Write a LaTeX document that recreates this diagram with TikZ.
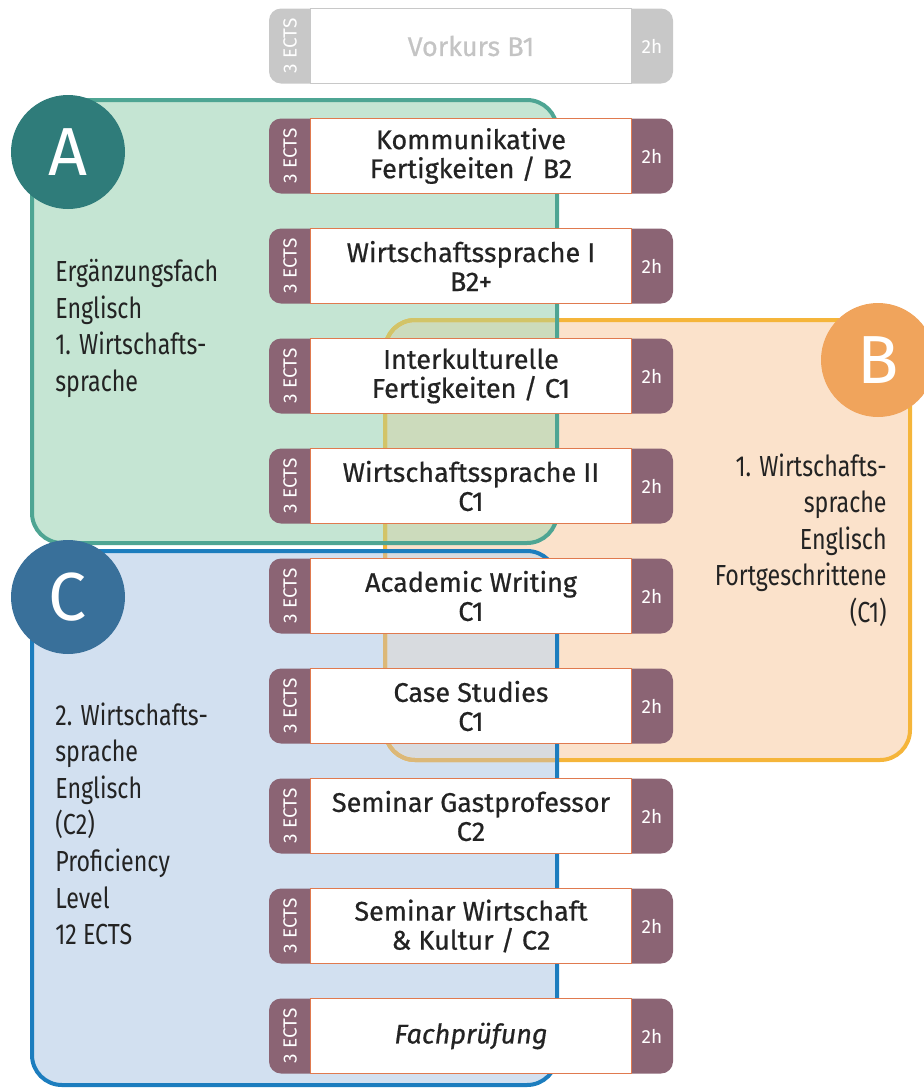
\documentclass[tikz,border=0pt]{standalone}
\usepackage{fontspec}
\setsansfont{Fira Sans}
\newfontfamily\condfont[FakeStretch=0.8]{Fira Sans}
\newfontfamily\coursefont[FakeBold=0.6]{Fira Sans}
\usetikzlibrary{positioning}

\definecolor{tabmauve}{RGB}{139,100,116}
\definecolor{courseline}{RGB}{224,122,79}
\definecolor{textdark}{RGB}{35,35,35}
\definecolor{greytab}{RGB}{200,200,200}
\definecolor{greytext}{RGB}{196,196,196}
\definecolor{afill}{RGB}{197,229,211}
\definecolor{aline}{RGB}{78,165,147}
\definecolor{abadge}{RGB}{47,124,122}
\definecolor{bfill}{RGB}{251,226,203}
\definecolor{bline}{RGB}{245,181,58}
\definecolor{bbadge}{RGB}{240,164,92}
\definecolor{cfill}{RGB}{210,224,240}
\definecolor{cline}{RGB}{28,125,190}
\definecolor{cbadge}{RGB}{57,112,154}
\definecolor{abfill}{RGB}{204,219,188}
\definecolor{cbfill}{RGB}{216,219,223}
\definecolor{abline}{RGB}{210,196,104}
\definecolor{cbline}{RGB}{220,184,120}

\begin{document}
\begin{tikzpicture}[x=0.5pt, y=-0.5pt, node distance=17.5pt,
	row/.style={rounded corners=6pt, fill=tabmauve, minimum width=202pt, minimum height=37.5pt, inner sep=0pt, outer sep=0pt},
	course/.style={draw=courseline, line width=0.6pt, fill=white, minimum width=160.5pt, minimum height=37.5pt, inner sep=0pt, align=center, text=textdark, font=\coursefont\fontsize{13.5}{14.5}\selectfont},
	ects/.style={rotate=90, text=white, inner sep=0pt, font=\sffamily\fontsize{9.5}{10}\selectfont},
	hours/.style={text=white, inner sep=0pt, font=\sffamily\fontsize{9.5}{10}\selectfont},
	group/.style={line width=2pt, rounded corners=15pt},
	badge/.style={circle, minimum size=57pt, inner sep=0pt, text=white, font=\sffamily\fontsize{34}{34}\selectfont},
	info/.style={inner sep=0pt, text=textdark, font=\condfont\fontsize{14.5}{18.3}\selectfont}]
	\useasboundingbox (0,0) rectangle (924,1088);

	% groups A, B, C
	\coordinate (a1) at (32,100);  \coordinate (a2) at (557,543);
	\coordinate (b1) at (385,320); \coordinate (b2) at (910,760);
	\coordinate (c1) at (32,551);  \coordinate (c2) at (557,1085);
	\fill[group, bfill] (b1) rectangle (b2);
	\fill[group, afill] (a1) rectangle (a2);
	\fill[group, cfill] (c1) rectangle (c2);
	\begin{scope}
		\clip[rounded corners=15pt] (b1) rectangle (b2);
		\fill[group, abfill] (a1) rectangle (a2);
		\fill[group, cbfill] (c1) rectangle (c2);
	\end{scope}
	\draw[group, bline] (b1) rectangle (b2);
	\begin{scope}
		\clip[rounded corners=15pt] (a1) rectangle (a2);
		\draw[group, abline] (b1) rectangle (b2);
	\end{scope}
	\begin{scope}
		\clip[rounded corners=15pt] (c1) rectangle (c2);
		\draw[group, cbline] (b1) rectangle (b2);
	\end{scope}
	\draw[group, aline] (a1) rectangle (a2);
	\draw[group, cline] (c1) rectangle (c2);

	% course rows
	\node[row, fill=greytab] (r1) at (471,46) {};
	\node[row] (r2) [below=of r1] {};
	\node[row] (r3) [below=of r2] {};
	\node[row] (r4) [below=of r3] {};
	\node[row] (r5) [below=of r4] {};
	\node[row] (r6) [below=of r5] {};
	\node[row] (r7) [below=of r6] {};
	\node[row] (r8) [below=of r7] {};
	\node[row] (r9) [below=of r8] {};
	\node[row] (r10) [below=of r9] {};

	\node[course, draw=greytab, text=greytext] (k1) at (r1) {Vorkurs B1};
	\node[course] (k2) at (r2) {Kommunikative\\Fertigkeiten / B2};
	\node[course] (k3) at (r3) {Wirtschaftssprache I\\B2+};
	\node[course] (k4) at (r4) {Interkulturelle\\Fertigkeiten / C1};
	\node[course] (k5) at (r5) {Wirtschaftssprache II\\C1};
	\node[course] (k6) at (r6) {Academic Writing\\C1};
	\node[course] (k7) at (r7) {Case Studies\\C1};
	\node[course] (k8) at (r8) {Seminar Gastprofessor\\C2};
	\node[course] (k9) at (r9) {Seminar Wirtschaft\\\& Kultur / C2};
	\node[course] (k10) at (r10) {\itshape Fachprüfung};

	\foreach \i in {1,...,10} {
		\node[ects] (e\i) at ([xshift=10.5pt]r\i.west) {3 ECTS};
		\node[hours] (h\i) at ([xshift=-10.5pt]r\i.east) {2h};
	}

	% badges
	\node[badge, fill=abadge] (ba) at (68,152) {A};
	\node[badge, fill=bbadge] (bb) at (878,360) {B};
	\node[badge, fill=cbadge] (bc) at (68,597) {C};

	% group texts
	\node[info, anchor=north west, align=left] (ta) at (55,259) {Ergänzungsfach\\Englisch\\1. Wirtschafts-\\sprache};
	\node[info, anchor=north east, align=right] (tb) at (887,453) {1. Wirtschafts-\\sprache\\Englisch\\Fortgeschrittene\\(C1)};
	\node[info, anchor=north west, align=left] (tc) at (55,702) {2. Wirtschafts-\\sprache\\Englisch\\(C2)\\Proficiency\\Level\\12 ECTS};
\end{tikzpicture}
\end{document}
